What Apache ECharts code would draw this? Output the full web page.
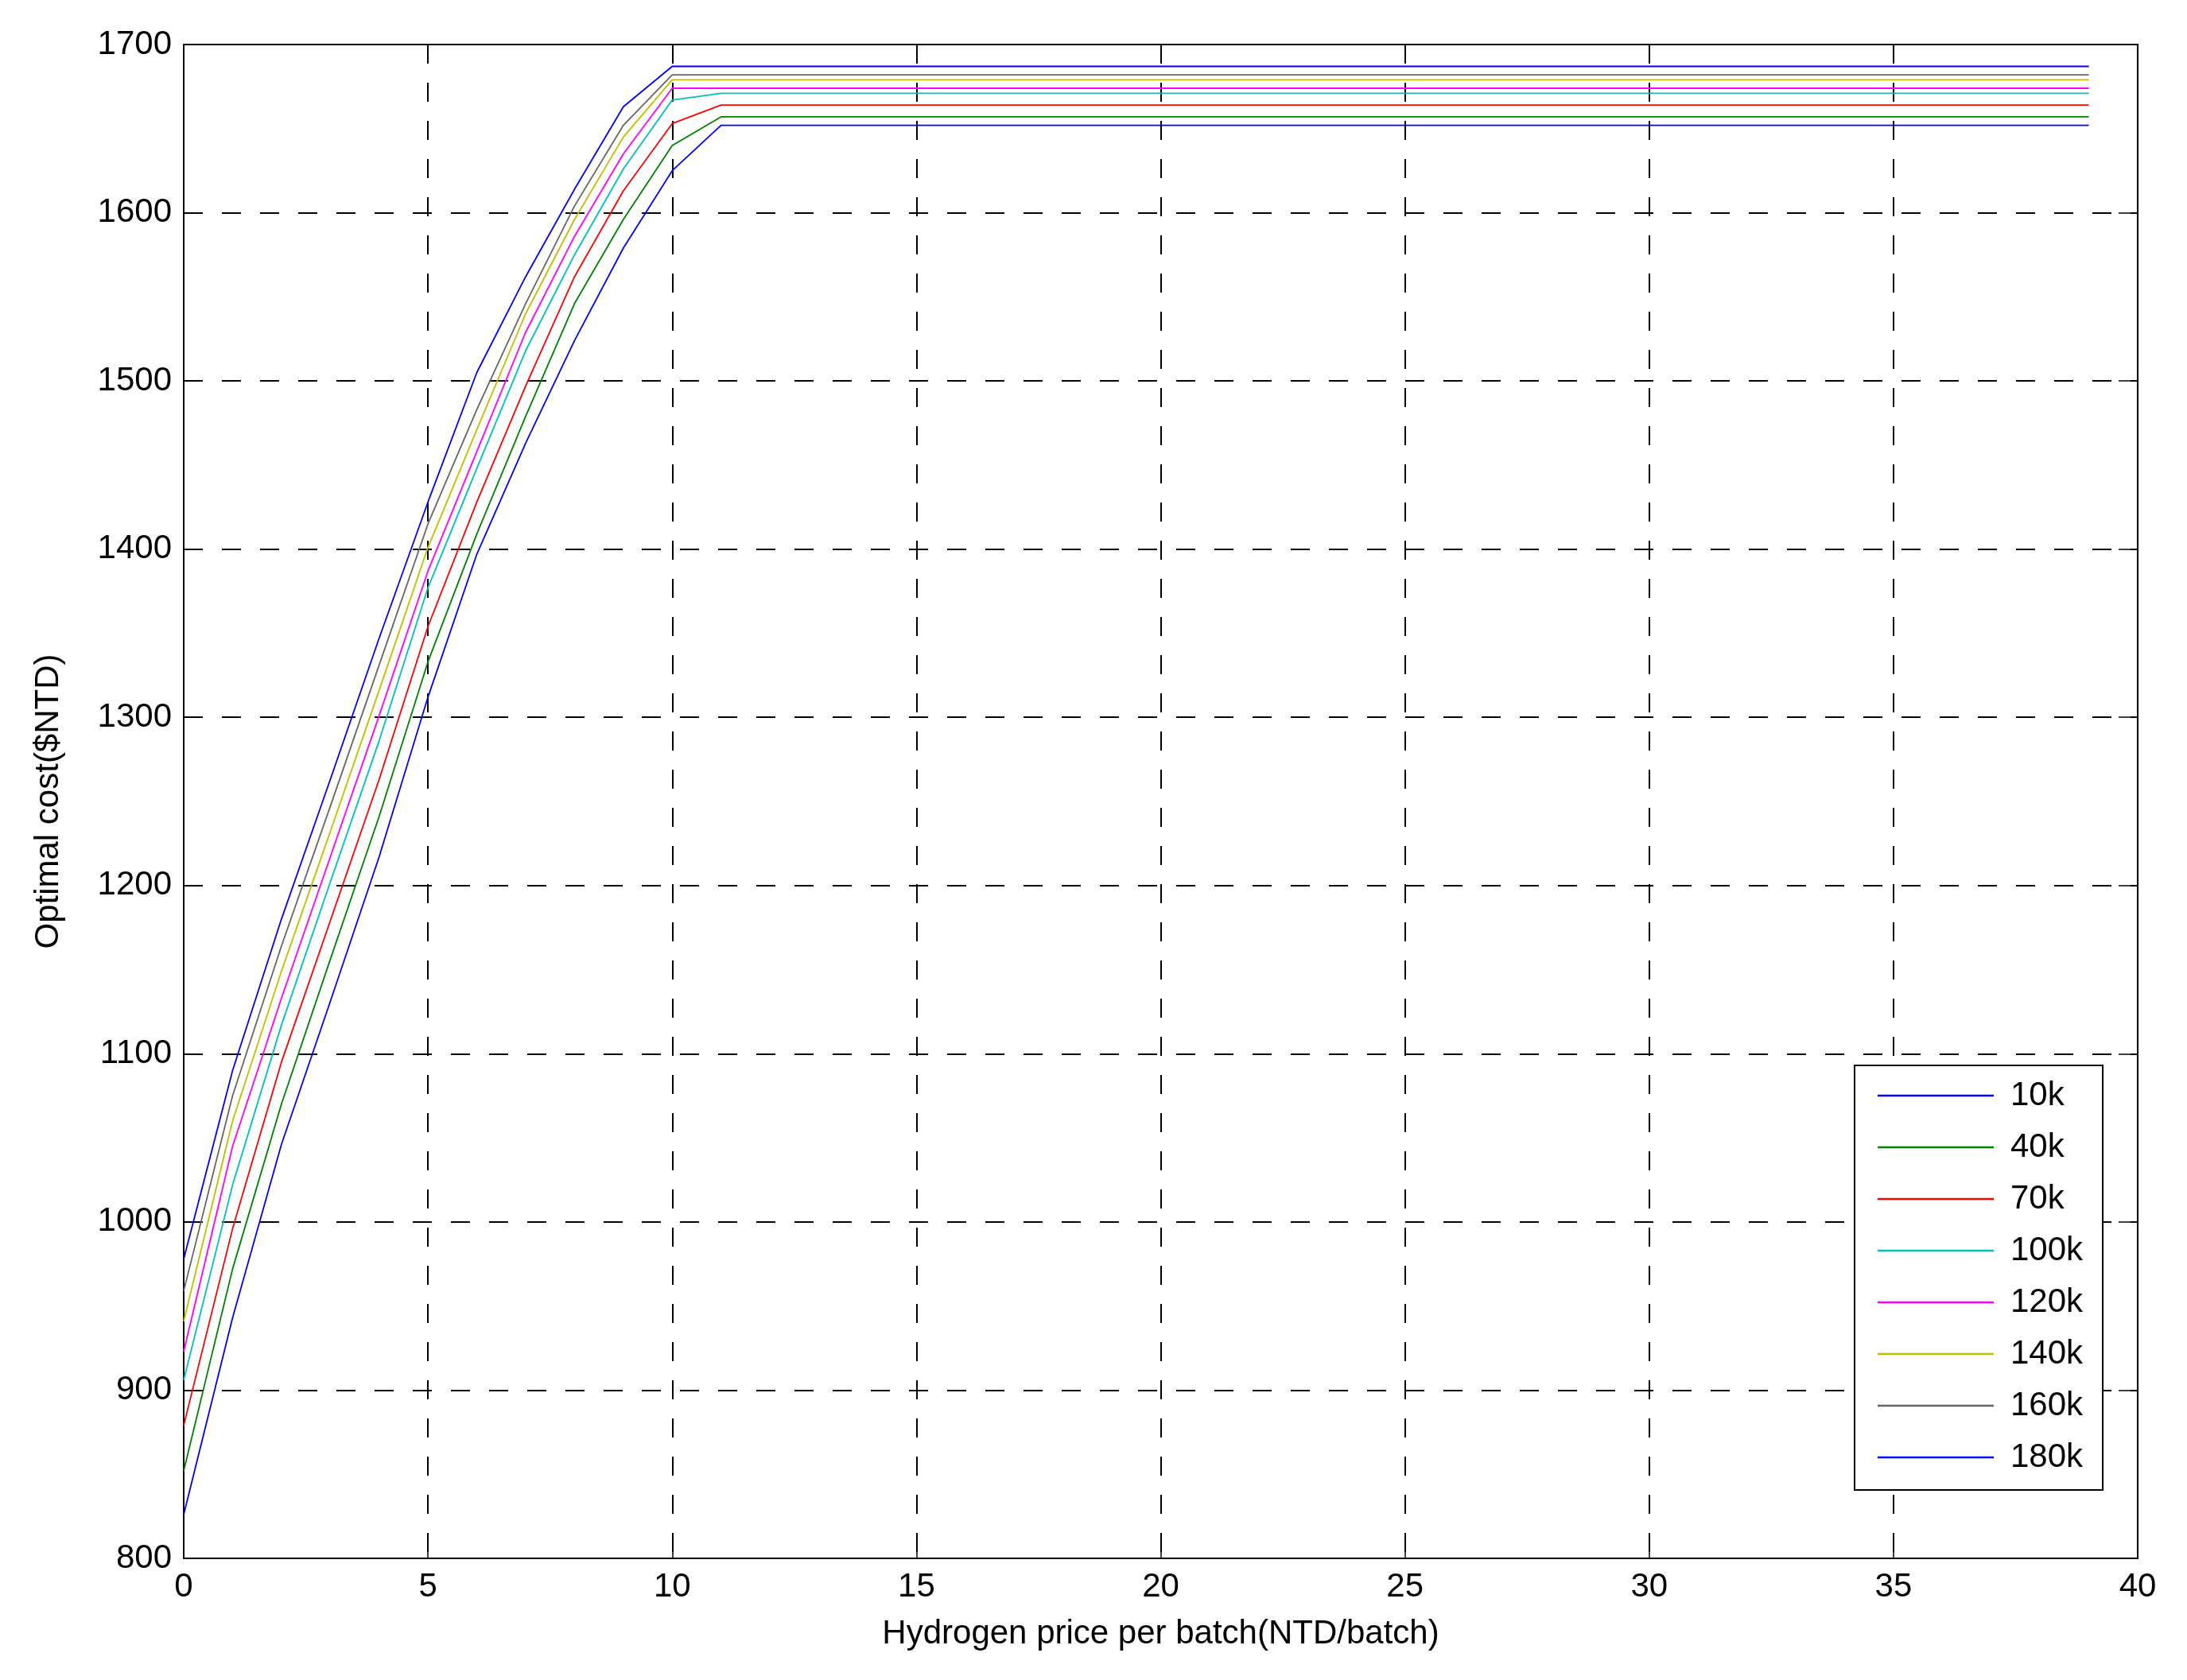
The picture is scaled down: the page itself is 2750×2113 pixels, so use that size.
<!DOCTYPE html>
<html>
<head>
<meta charset="utf-8">
<script src="https://cdn.jsdelivr.net/npm/echarts@6/dist/echarts.min.js"></script>
<style>
html,body{margin:0;padding:0;background:#fff;}
#chart{width:2750px;height:2113px;}
</style>
</head>
<body>
<div id="chart"></div>
<script>
// Hydrogen price per batch (x values where the curves have points; flat after the last rise point)
const hydrogenPrice = [0, 1, 2, 3, 4, 5, 6, 7, 8, 9, 10, 11, 39];

// Optimal cost ($NTD) for each capacity
const cost10k  = [826, 943, 1046, 1131, 1217, 1312, 1397, 1463, 1524, 1579, 1625, 1652, 1652];
const cost40k  = [852, 972, 1070, 1156, 1241, 1333, 1409, 1479, 1546, 1596, 1640, 1657, 1657];
const cost70k  = [879, 996, 1095, 1179, 1263, 1354, 1428, 1497, 1562, 1613, 1653, 1664, 1664];
const cost100k = [906, 1022, 1117, 1202, 1286, 1377, 1448, 1518, 1575, 1626, 1667, 1671, 1671];
const cost120k = [923, 1045, 1133, 1217, 1301, 1387, 1458, 1529, 1586, 1635, 1674, 1674, 1674];
const cost140k = [941, 1060, 1149, 1232, 1316, 1401, 1471, 1540, 1596, 1645, 1679, 1679, 1679];
const cost160k = [959, 1075, 1164, 1247, 1331, 1415, 1483, 1546, 1604, 1652, 1682, 1682, 1682];
const cost180k = [978, 1090, 1180, 1263, 1347, 1428, 1505, 1562, 1614, 1663, 1687, 1687, 1687];

const seriesNames = ['10k', '40k', '70k', '100k', '120k', '140k', '160k', '180k'];
const seriesValues = [cost10k, cost40k, cost70k, cost100k, cost120k, cost140k, cost160k, cost180k];
const seriesColors = ['#0000ff', '#008000', '#ff0000', '#00bfbf', '#ff00ff', '#bfbf00', '#666666', '#0000ff'];

const xTicks = { min: 0, max: 40, interval: 5 };
const yTicks = { min: 800, max: 1700, interval: 100 };

const FONT = 'Liberation Sans, Arial, Helvetica, sans-serif';
const FS = 42;

const chart = echarts.init(document.getElementById('chart'), null, { renderer: 'canvas' });

const gridLine = { show: true, lineStyle: { color: '#000', width: 2, type: [24, 24] } };
const axisLine = { show: true, onZero: false, lineStyle: { color: '#000', width: 2 } };
const tick = { show: true, inside: true, length: 24, lineStyle: { color: '#000', width: 1.5 } };
const plainNum = v => String(v);

const option = {
  backgroundColor: '#ffffff',
  animation: false,
  grid: { left: 231, right: 62, top: 56, bottom: 153, containLabel: false },
  xAxis: [
    {
      type: 'value', position: 'bottom',
      min: xTicks.min, max: xTicks.max, interval: xTicks.interval,
      name: 'Hydrogen price per batch(NTD/batch)', nameLocation: 'middle', nameGap: 74,
      nameTextStyle: { fontFamily: FONT, fontSize: FS, color: '#000' },
      axisLine: axisLine, axisTick: tick, splitLine: gridLine,
      axisLabel: { fontFamily: FONT, fontSize: FS, color: '#000', margin: 15, formatter: plainNum }
    },
    {
      type: 'value', position: 'top',
      min: xTicks.min, max: xTicks.max, interval: xTicks.interval,
      axisLine: axisLine, axisTick: tick, splitLine: { show: false },
      axisLabel: { show: false }
    }
  ],
  yAxis: [
    {
      type: 'value', position: 'left',
      min: yTicks.min, max: yTicks.max, interval: yTicks.interval,
      name: 'Optimal cost($NTD)', nameLocation: 'middle', nameGap: 149, nameRotate: 90,
      nameTextStyle: { fontFamily: FONT, fontSize: FS, color: '#000' },
      axisLine: axisLine, axisTick: tick, splitLine: gridLine,
      axisLabel: { fontFamily: FONT, fontSize: FS, color: '#000', margin: 15, formatter: plainNum }
    },
    {
      type: 'value', position: 'right',
      min: yTicks.min, max: yTicks.max, interval: yTicks.interval,
      axisLine: axisLine, axisTick: tick, splitLine: { show: false },
      axisLabel: { show: false }
    }
  ],
  legend: {
    show: true,
    orient: 'vertical',
    left: 2332, top: 1340,
    data: seriesNames.map(n => ({ name: n, icon: 'rect' })),
    backgroundColor: '#ffffff',
    borderColor: '#000', borderWidth: 2,
    padding: [16, 25, 19, 29],
    itemWidth: 146, itemHeight: 2.5, itemGap: 21,
    textStyle: { fontFamily: FONT, fontSize: FS, color: '#000', lineHeight: 44, padding: [0, 0, 0, 16] }
  },
  series: seriesNames.map((name, i) => ({
    name: name,
    type: 'line',
    xAxisIndex: 0, yAxisIndex: 0,
    symbol: 'none',
    showSymbol: false,
    smooth: false,
    z: 3 + i,
    color: seriesColors[i],
    lineStyle: { color: seriesColors[i], width: 1.8 },
    data: hydrogenPrice.map((x, k) => [x, seriesValues[i][k]])
  }))
};

chart.setOption(option);
</script>
</body>
</html>
